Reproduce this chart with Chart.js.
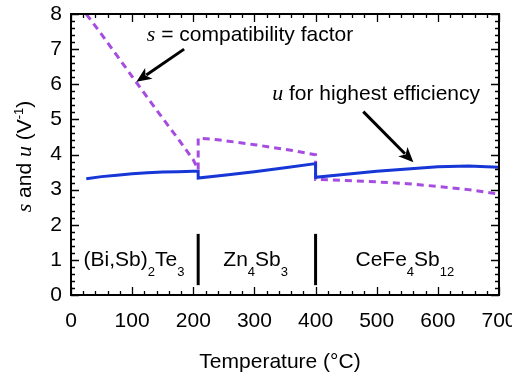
<!DOCTYPE html>
<html>
<head>
<meta charset="utf-8">
<script src="https://cdn.jsdelivr.net/npm/chart.js@4"></script>
<style>
  html, body { margin: 0; padding: 0; background: #fff; }
  #chart { display: block; }
</style>
</head>
<body>
<canvas id="chart" width="512" height="379"></canvas>
<script>
// ==== data ====
// u = reduced current for highest efficiency (solid blue)
const uTemp  = [25, 50, 75, 100, 125, 150, 175, 200, 208, 208, 250, 300, 350, 400, 400, 450, 500, 550, 600, 650, 700];
const uValue = [3.31, 3.37, 3.41, 3.45, 3.48, 3.50, 3.51, 3.52, 3.52, 3.33, 3.41, 3.51, 3.62, 3.74, 3.35, 3.44, 3.52, 3.59, 3.65, 3.67, 3.64];

// s = compatibility factor (dashed purple)
const sTemp  = [25, 50, 75, 100, 125, 150, 175, 200, 208, 208, 240, 270, 300, 330, 360, 400, 400, 450, 500, 550, 600, 650, 700];
const sValue = [8.0, 7.42, 6.82, 6.22, 5.62, 5.03, 4.45, 3.85, 3.57, 4.47, 4.42, 4.35, 4.28, 4.20, 4.12, 3.99, 3.29, 3.26, 3.22, 3.17, 3.09, 3.00, 2.87];

// segment boundaries between materials
const dividerTemps = [208, 400];
const dividerRange = [0.28, 1.74];

// material labels: [name parts, centre temperature]
const materials = [
  { parts: [['(Bi,Sb)', 0], ['2', 1], ['Te', 0], ['3', 1]], t: 103 },
  { parts: [['Zn', 0], ['4', 1], ['Sb', 0], ['3', 1]], t: 302 },
  { parts: [['CeFe', 0], ['4', 1], ['Sb', 0], ['12', 1]], t: 546 }
];
const materialY = 0.83;

// annotations (data units)
const notes = [
  { italic: 's', text: ' = compatibility factor', t: 124, v: 7.24, from: [185, 7.0], to: [107, 6.07] },
  { italic: 'u', text: ' for highest efficiency', t: 329, v: 5.54, from: [478, 5.22], to: [560, 3.78] }
];

const xMin = 0, xMax = 700, xStep = 100, xMinor = 20;
const yMin = 0, yMax = 8, yStep = 1, yMinor = 0.2;

const BLUE = '#1636d6';
const PURPLE = '#a64ce0';
const SANS = '"Liberation Sans", Arial, sans-serif';
const SERIF = '"Liberation Serif", "Times New Roman", serif';

function pts(xs, ys) { return xs.map((x, i) => ({ x: x, y: ys[i] })); }

// draw a run of [text, font, dy] pieces
function richWidth(ctx, segs) {
  let w = 0;
  segs.forEach(s => { ctx.font = s[1]; w += ctx.measureText(s[0]).width; });
  return w;
}
function drawRich(ctx, x, y, segs) {
  let cx = x;
  segs.forEach(s => {
    ctx.font = s[1];
    ctx.fillText(s[0], cx, y + (s[2] || 0));
    cx += ctx.measureText(s[0]).width;
  });
}

function arrow(ctx, x0, y0, x1, y1) {
  const ang = Math.atan2(y1 - y0, x1 - x0);
  const len = 15, half = 6.5;
  const bx = x1 - len * Math.cos(ang), by = y1 - len * Math.sin(ang);
  ctx.lineWidth = 3;
  ctx.beginPath();
  ctx.moveTo(x0, y0);
  ctx.lineTo(bx + 3 * Math.cos(ang), by + 3 * Math.sin(ang));
  ctx.stroke();
  ctx.beginPath();
  ctx.moveTo(x1, y1);
  ctx.lineTo(bx - half * Math.sin(ang), by + half * Math.cos(ang));
  ctx.lineTo(bx + 4 * Math.cos(ang), by + 4 * Math.sin(ang));
  ctx.lineTo(bx + half * Math.sin(ang), by - half * Math.cos(ang));
  ctx.closePath();
  ctx.fill();
}

const decorations = {
  id: 'decorations',
  afterDraw(chart) {
    const ctx = chart.ctx;
    const xs = chart.scales.x, ys = chart.scales.y;
    const a = chart.chartArea;
    ctx.save();
    ctx.fillStyle = '#000';
    ctx.strokeStyle = '#000';

    // frame
    ctx.lineWidth = 2;
    ctx.strokeRect(a.left, a.top, a.right - a.left, a.bottom - a.top);

    // inward ticks on all four sides
    ctx.lineWidth = 1.3;
    ctx.beginPath();
    for (let t = xMin; t <= xMax + 1e-6; t += xMinor) {
      const px = Math.round(xs.getPixelForValue(t)) + 0.5;
      const L = Math.abs(t % xStep) < 1e-6 ? 8 : 4;
      ctx.moveTo(px, a.bottom); ctx.lineTo(px, a.bottom - L);
      ctx.moveTo(px, a.top); ctx.lineTo(px, a.top + L);
    }
    for (let k = 0; k <= Math.round((yMax - yMin) / yMinor); k++) {
      const v = yMin + k * yMinor;
      const py = Math.round(ys.getPixelForValue(v)) + 0.5;
      const L = k % Math.round(yStep / yMinor) === 0 ? 8 : 4;
      ctx.moveTo(a.left, py); ctx.lineTo(a.left + L, py);
      ctx.moveTo(a.right, py); ctx.lineTo(a.right - L, py);
    }
    ctx.stroke();

    // material labels
    ctx.textBaseline = 'alphabetic';
    materials.forEach(m => {
      const segs = m.parts.map(p => p[1] ? [p[0], '13px ' + SANS, 10.5] : [p[0], '21px ' + SANS, 0]);
      const w = richWidth(ctx, segs);
      drawRich(ctx, xs.getPixelForValue(m.t) - w / 2, ys.getPixelForValue(materialY), segs);
    });

    // annotations with arrows
    notes.forEach(n => {
      drawRich(ctx, xs.getPixelForValue(n.t), ys.getPixelForValue(n.v), [
        [n.italic, 'italic 22px ' + SERIF, 0],
        [n.text, '21px ' + SANS, 0]
      ]);
      arrow(ctx, xs.getPixelForValue(n.from[0]), ys.getPixelForValue(n.from[1]),
                 xs.getPixelForValue(n.to[0]), ys.getPixelForValue(n.to[1]));
    });

    // x axis title
    ctx.font = '21px ' + SANS;
    ctx.textAlign = 'center';
    ctx.fillText('Temperature (°C)', (a.left + a.right) / 2 - 5, a.bottom + 73);

    // y axis title (rotated)
    ctx.textAlign = 'left';
    const ySegs = [
      ['s', 'italic 22px ' + SERIF, 0],
      [' and ', '21px ' + SANS, 0],
      ['u', 'italic 22px ' + SERIF, 0],
      [' (V', '21px ' + SANS, 0],
      ['-1', '13px ' + SANS, -8],
      [')', '21px ' + SANS, 0]
    ];
    const yw = richWidth(ctx, ySegs);
    ctx.translate(a.left - 40, (a.top + a.bottom) / 2 + 2);
    ctx.rotate(-Math.PI / 2);
    drawRich(ctx, -yw / 2, 0, ySegs);
    ctx.restore();
  }
};

const datasets = [
  {
    data: pts(uTemp, uValue),
    borderColor: BLUE, borderWidth: 3, pointRadius: 0, tension: 0
  },
  {
    data: pts(sTemp, sValue),
    borderColor: PURPLE, borderWidth: 3, borderDash: [7, 5], pointRadius: 0, tension: 0
  }
];
dividerTemps.forEach(t => {
  datasets.push({
    data: pts([t, t], dividerRange),
    borderColor: '#000', borderWidth: 3, pointRadius: 0
  });
});

new Chart(document.getElementById('chart'), {
  type: 'line',
  data: { datasets: datasets },
  options: {
    responsive: false,
    animation: false,
    layout: { padding: { top: 14, right: 13, left: 0, bottom: 0 } },
    plugins: { legend: { display: false }, tooltip: { enabled: false } },
    scales: {
      x: {
        type: 'linear', min: xMin, max: xMax,
        grid: { display: false, drawTicks: false },
        border: { display: false },
        ticks: { stepSize: xStep, color: '#000', font: { family: SANS, size: 21 }, padding: 14, maxRotation: 0 },
        afterFit(s) { s.height = 84; s.paddingLeft = 0; s.paddingRight = 0; }
      },
      y: {
        min: yMin, max: yMax,
        grid: { display: false, drawTicks: false },
        border: { display: false },
        ticks: { stepSize: yStep, color: '#000', font: { family: SANS, size: 21 }, padding: 9 },
        afterFit(s) { s.width = 71; s.paddingTop = 0; s.paddingBottom = 0; }
      }
    }
  },
  plugins: [decorations]
});
</script>
</body>
</html>
